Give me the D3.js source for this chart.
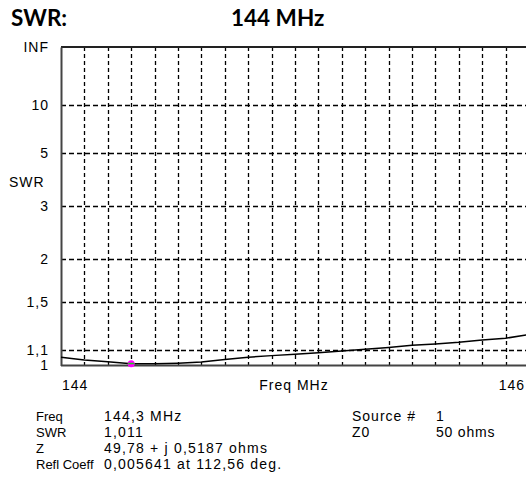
<!DOCTYPE html>
<html><head><meta charset="utf-8">
<script src="https://cdn.jsdelivr.net/npm/d3@7"></script>
<style>
body{margin:0;background:#fff;}
svg{display:block;}
text{font-family:"Liberation Sans",Arial,sans-serif;fill:#000;}
</style></head>
<body>
<script>
// ---- data ----
const freqs = [144.0,144.1,144.2,144.3,144.4,144.5,144.6,144.7,144.8,144.9,145.0,145.1,145.2,145.3,145.4,145.5,145.6,145.7,145.8,145.9,146.0];
const swr   = [1.053,1.035,1.024,1.011,1.011,1.015,1.022,1.038,1.053,1.064,1.073,1.083,1.095,1.107,1.120,1.136,1.145,1.157,1.174,1.187,1.216];
const yTickValues = [1, 1.1, 1.5, 2, 3, 5, 10, Infinity];
const yTickLabels = ["1","1,1","1,5","2","3","5","10","INF"];
const xGridValues = [144.1,144.2,144.3,144.4,144.5,144.6,144.7,144.8,144.9,145.0,145.1,145.2,145.3,145.4,145.5,145.6,145.7,145.8,145.9];
const xTickLabels = ["144","146"];
const markerFreq = [144.3];
const markerSwr = [1.011];
const infoLeftLabels = ["Freq","SWR","Z","Refl Coeff"];
const infoLeftValues = ["144,3 MHz","1,011","49,78 + j 0,5187 ohms","0,005641 at 112,56 deg."];
const infoRightLabels = ["Source #","Z0"];
const infoRightValues = ["1","50 ohms"];
const titleLeft = "SWR:";
const titleRight = "144 MHz";

// ---- layout ----
const W = 526, H = 483;
const L = 61, R = 529, T = 47, B = 365.5;
const rho = s => s === Infinity ? 1 : (s - 1) / (s + 1);

const x = d3.scaleLinear().domain([144, 146]).range([L, R]);
const y = d3.scaleLinear().domain([0, 1]).range([B, T]);

const svg = d3.select("body").append("svg").attr("width", W).attr("height", H);

// titles
const tf = "Lato, 'Open Sans', sans-serif";
svg.append("text").attr("x", 11).attr("y", 26).text(titleLeft)
  .style("font-family", tf).style("font-weight", "bold").style("font-size", "22.5px");
svg.append("text").attr("x", 231).attr("y", 26).text(titleRight)
  .style("font-family", tf).style("font-weight", "bold").style("font-size", "22.5px");

// grid
const grid = svg.append("g");
grid.selectAll(".vg").data(xGridValues).join("line")
  .attr("x1", d => Math.round(x(d)) + 0.5).attr("x2", d => Math.round(x(d)) + 0.5)
  .attr("y1", T).attr("y2", B)
  .attr("stroke", "#000").attr("stroke-width", 1.3).attr("stroke-dasharray", "4,3");
grid.selectAll(".hg").data(yTickValues.slice(1, -1)).join("line")
  .attr("x1", L).attr("x2", R)
  .attr("y1", d => Math.round(y(rho(d))) + 0.5).attr("y2", d => Math.round(y(rho(d))) + 0.5)
  .attr("stroke", "#000").attr("stroke-width", 1.3).attr("stroke-dasharray", "5,3");

// borders
svg.append("line").attr("x1", L).attr("x2", R).attr("y1", T).attr("y2", T).attr("stroke", "#222").attr("stroke-width", 2);
svg.append("line").attr("x1", L).attr("x2", R).attr("y1", B).attr("y2", B).attr("stroke", "#444").attr("stroke-width", 2);

// y axis
const yAxis = d3.axisLeft(y).tickValues(yTickValues.map(rho)).tickFormat((d, i) => yTickLabels[i]).tickSize(0).tickPadding(12);
const gy = svg.append("g").attr("transform", `translate(${L},0)`).call(yAxis);
gy.select(".domain").attr("stroke", "#444").attr("stroke-width", 2);
gy.selectAll("text").style("font-family", "'Liberation Sans', Arial, sans-serif").style("font-size", "14px")
  .style("letter-spacing", "1px").attr("fill", "#000");

// SWR axis title
svg.append("text").attr("x", 9).attr("y", 187).text("SWR").style("font-size", "14px").style("letter-spacing", "1px");

// x labels
const xl = svg.append("g").style("font-size", "14px").style("letter-spacing", "1px");
xl.append("text").attr("x", x(144) + 1).attr("y", 390).text(xTickLabels[0]);
xl.append("text").attr("x", x(146) - 4).attr("y", 390).attr("text-anchor", "end").text(xTickLabels[1]);
xl.append("text").attr("x", x(145) - 1).attr("y", 390).attr("text-anchor", "middle").text("Freq MHz");

// curve
const line = d3.line().x((d, i) => x(freqs[i])).y(d => y(rho(d)));
svg.append("path").datum(swr).attr("d", line).attr("fill", "none").attr("stroke", "#000").attr("stroke-width", 1.5);

// marker
svg.selectAll(".mk").data(markerFreq).join("circle")
  .attr("cx", (d, i) => x(d)).attr("cy", (d, i) => y(rho(markerSwr[i]))).attr("r", 3.5)
  .attr("fill", "#ff00ff");
svg.selectAll(".mk2").data(markerFreq).join("rect")
  .attr("x", (d) => x(d) - 3).attr("y", (d, i) => y(rho(markerSwr[i])) - 1)
  .attr("width", 6).attr("height", 1.5).attr("fill", "#22cc22");

// info block
const rows = [416, 432, 448, 464];
const info = svg.append("g");
info.selectAll(".l1").data(infoLeftLabels).join("text").attr("x", 36).attr("y", (d, i) => rows[i] + 5).text(d => d)
  .style("font-size", "13px");
info.selectAll(".v1").data(infoLeftValues).join("text").attr("x", 104).attr("y", (d, i) => rows[i] + 5).text(d => d)
  .style("font-size", "14px").style("letter-spacing", "1.2px");
info.selectAll(".l2").data(infoRightLabels).join("text").attr("x", 352).attr("y", (d, i) => rows[i] + 5).text(d => d)
  .style("font-size", "14px").style("letter-spacing", "1px");
info.selectAll(".v2").data(infoRightValues).join("text").attr("x", 436).attr("y", (d, i) => rows[i] + 5).text(d => d)
  .style("font-size", "14px").style("letter-spacing", "0.8px");
</script>
</body></html>
